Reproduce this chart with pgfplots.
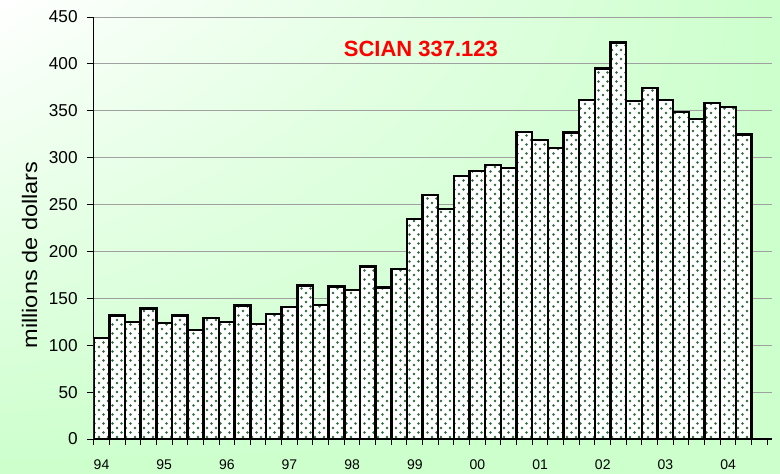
\documentclass[border=0pt]{standalone}
\usepackage{fontspec}
\setmainfont{Liberation Sans}
\newfontfamily\labelfont[FakeStretch=1.12]{Liberation Sans}
\usepackage{pgfplots}
\pgfplotsset{compat=1.18}
\usetikzlibrary{patterns,shadings}
\definecolor{bggreen}{HTML}{CCFFCC}
\definecolor{dotgreen}{HTML}{2F6A3A}
\definecolor{gridgray}{HTML}{A0A0A0}
\pgfdeclarepatternformonly{mydots}{\pgfqpoint{-0.8pt}{-0.8pt}}{\pgfqpoint{3.7pt}{3.7pt}}{\pgfqpoint{4.5pt}{4.5pt}}{%
  \pgfpathcircle{\pgfqpoint{0pt}{0pt}}{0.7pt}%
  \pgfpathcircle{\pgfqpoint{2.25pt}{2.25pt}}{0.7pt}%
  \pgfusepath{fill}}
\begin{document}
\begin{tikzpicture}
\shade[upper left=white, upper right=bggreen, lower left=bggreen, lower right=bggreen] (0,0) rectangle (390pt,236.5pt);
\begin{axis}[
  at={(46.85pt,17pt)}, anchor=south west,
  scale only axis, width=339.1pt, height=211pt,
  xmin=0.5, xmax=43.8, ymin=0, ymax=450,
  axis x line*=bottom, axis y line*=left,
  axis line style={black, line width=0.6pt, -},
  ytick={0,50,...,450},
  xtick={1,5,...,41},
  xticklabels={94,95,96,97,98,99,00,01,02,03,04},
  minor xtick={0.5,1.5,...,43.5},
  major x tick style={draw=none},
  minor x tick style={black, line width=0.5pt},
  y tick style={black, line width=0.5pt},
  tick align=outside,
  major tick length=3.5pt, minor tick length=3pt,
  ymajorgrids, grid style={gridgray, line width=0.5pt},
  /pgf/number format/assume math mode=true,
  yticklabel style={font=\fontsize{8.6}{10}\selectfont, xshift=-1pt},
  xticklabel style={font=\fontsize{7}{8}\selectfont, yshift=-3.5pt},
  ylabel={millions de dollars},
  every axis y label/.style={at={(axis description cs:-0.0945,0.436)}, rotate=90, anchor=center, font=\labelfont\fontsize{10.5}{12}\selectfont},
]
\addplot[ybar, bar width=1, draw=black, line width=1.2pt, pattern=mydots, pattern color=dotgreen, preaction={fill=white}] coordinates {
(1,108) (2,131.5) (3,124.5) (4,139) (5,124) (6,131.5) (7,116) (8,129)
(9,124.5) (10,142.5) (11,122.5) (12,133.5) (13,141) (14,163.5) (15,143) (16,162.5)
(17,159) (18,184) (19,161.5) (20,181.5) (21,234.5) (22,260) (23,245.5) (24,280.5)
(25,286) (26,292.5) (27,289) (28,327.5) (29,319) (30,310) (31,327) (32,361.5)
(33,395) (34,423) (35,360.5) (36,374.5) (37,361.5) (38,349) (39,341.5) (40,358.5)
(41,354) (42,324.5)
};
\node[font=\bfseries\fontsize{11}{13}\selectfont, text=red] at (axis cs:21.39,416) {SCIAN 337.123};
\end{axis}
\pgfresetboundingbox
\useasboundingbox (0,0) rectangle (390pt,236.5pt);
\end{tikzpicture}
\end{document}
